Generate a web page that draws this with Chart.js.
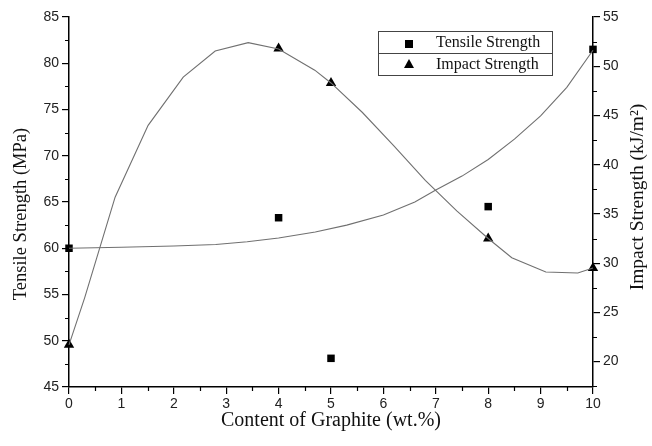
<!DOCTYPE html>
<html>
<head>
<meta charset="utf-8">
<script src="https://cdn.jsdelivr.net/npm/chart.js@4/dist/chart.umd.min.js"></script>
<style>
  html, body { margin: 0; padding: 0; background: #fff; }
  #wrap { width: 652px; height: 446px; }
</style>
</head>
<body>
<div id="wrap"><canvas id="c" width="652" height="446"></canvas></div>
<script>
// Measured samples
const graphiteContent = [0, 4, 5, 8, 10];
const tensileStrength = [60.0, 63.3, 48.1, 64.5, 81.5];
const impactStrength  = [21.7, 51.8, 48.3, 32.5, 29.5];

// Fitted trend curves
const tensileFitX = [0, 1, 2, 2.8, 3.4, 4.0, 4.7, 5.3, 6.0, 6.6, 7.0, 7.5, 8.0, 8.5, 9.0, 9.5, 10];
const tensileFitY = [60.0, 60.1, 60.25, 60.4, 60.7, 61.1, 61.75, 62.5, 63.6, 65.0, 66.3, 67.8, 69.6, 71.8, 74.3, 77.4, 81.4];
const impactFitX  = [0, 0.3, 0.88, 1.51, 2.18, 2.79, 3.42, 4.0, 4.69, 5.0, 5.6, 6.2, 6.8, 7.4, 8.0, 8.45, 9.1, 9.71, 10];
const impactFitY  = [21.7, 26.5, 36.7, 44.0, 48.9, 51.55, 52.4, 51.75, 49.6, 48.3, 45.3, 41.9, 38.4, 35.3, 32.5, 30.55, 29.1, 29.0, 29.5];

// Axis ticks
const xTicks = [0, 1, 2, 3, 4, 5, 6, 7, 8, 9, 10];
const tensileTicks = [45, 50, 55, 60, 65, 70, 75, 80, 85];
const impactTicks = [20, 25, 30, 35, 40, 45, 50, 55];

const xTitle = 'Content of Graphite (wt.%)';
const tensileTitle = 'Tensile Strength (MPa)';
const impactTitle = 'Impact Strength (kJ/m\u00B2)';
const legendLabels = ['Tensile Strength', 'Impact Strength'];

const pts = (xs, ys) => xs.map((x, i) => ({ x: x, y: ys[i] }));

const tickFont = { family: '"Liberation Sans", Arial, sans-serif', size: 14 };
const serif = '"Liberation Serif", "Times New Roman", serif';

// Short minor ticks halfway between labelled ticks
const minorTicks = {
  id: 'minorTicks',
  afterDraw(chart) {
    const ctx = chart.ctx;
    const { x, y, y1 } = chart.scales;
    ctx.save();
    ctx.strokeStyle = '#000';
    ctx.lineWidth = 1.2;
    ctx.beginPath();
    for (let i = 0; i < xTicks.length - 1; i++) {
      const px = Math.round(x.getPixelForValue((xTicks[i] + xTicks[i + 1]) / 2)) + 0.5;
      ctx.moveTo(px, x.top); ctx.lineTo(px, x.top + 4);
    }
    for (let i = 0; i < tensileTicks.length - 1; i++) {
      const py = Math.round(y.getPixelForValue((tensileTicks[i] + tensileTicks[i + 1]) / 2)) + 0.5;
      ctx.moveTo(y.right, py); ctx.lineTo(y.right - 4, py);
    }
    const imp = [impactTicks[0] - 5].concat(impactTicks);
    for (let i = 0; i < imp.length - 1; i++) {
      const v = (imp[i] + imp[i + 1]) / 2;
      if (v < y1.min) continue;
      const py = Math.round(y1.getPixelForValue(v)) + 0.5;
      ctx.moveTo(y1.left, py); ctx.lineTo(y1.left + 4, py);
    }
    ctx.stroke();
    ctx.restore();
  }
};

// Vertical axis titles, both reading bottom to top
const sideTitles = {
  id: 'sideTitles',
  afterDraw(chart) {
    const ctx = chart.ctx;
    ctx.save();
    ctx.fillStyle = '#111';
    ctx.font = '18.5px ' + serif;
    ctx.textAlign = 'center';
    ctx.textBaseline = 'middle';
    ctx.translate(21, 214);
    ctx.rotate(-Math.PI / 2);
    ctx.fillText(tensileTitle, 0, 0);
    ctx.restore();

    ctx.save();
    ctx.fillStyle = '#111';
    ctx.font = '19.5px ' + serif;
    ctx.textAlign = 'center';
    ctx.textBaseline = 'middle';
    ctx.translate(638, 197);
    ctx.rotate(-Math.PI / 2);
    ctx.fillText(impactTitle, 0, 0);
    ctx.restore();
  }
};

// Boxed two-row legend
const boxLegend = {
  id: 'boxLegend',
  afterDraw(chart) {
    const ctx = chart.ctx;
    const L = 378.5, R = 552.5, T = 31.5, M = 53.5, B = 75.5;
    ctx.save();
    ctx.strokeStyle = '#444';
    ctx.lineWidth = 1;
    ctx.strokeRect(L, T, R - L, B - T);
    ctx.beginPath(); ctx.moveTo(L, M); ctx.lineTo(R, M); ctx.stroke();
    ctx.fillStyle = '#000';
    // square marker
    ctx.fillRect(405, 40, 8, 8);
    // triangle marker
    ctx.beginPath();
    ctx.moveTo(409, 59); ctx.lineTo(414, 68); ctx.lineTo(404, 68); ctx.closePath(); ctx.fill();
    ctx.fillStyle = '#111';
    ctx.font = '16px ' + serif;
    ctx.textAlign = 'left';
    ctx.textBaseline = 'middle';
    ctx.fillText(legendLabels[0], 436, 43);
    ctx.fillText(legendLabels[1], 436, 65);
    ctx.restore();
  }
};

new Chart(document.getElementById('c'), {
  type: 'scatter',
  data: {
    datasets: [
      {
        label: 'Tensile fit', data: pts(tensileFitX, tensileFitY), yAxisID: 'y',
        showLine: true, borderColor: '#707070', borderWidth: 1.1, pointRadius: 0, tension: 0, clip: false
      },
      {
        label: 'Impact fit', data: pts(impactFitX, impactFitY), yAxisID: 'y1',
        showLine: true, borderColor: '#707070', borderWidth: 1.1, pointRadius: 0, tension: 0, clip: false
      },
      {
        label: legendLabels[0], data: pts(graphiteContent, tensileStrength), yAxisID: 'y',
        pointStyle: 'rect', pointRadius: 5.3, backgroundColor: '#000', borderColor: '#000', borderWidth: 0, clip: false
      },
      {
        label: legendLabels[1], data: pts(graphiteContent, impactStrength), yAxisID: 'y1',
        pointStyle: 'triangle', pointRadius: 6, backgroundColor: '#000', borderColor: '#000', borderWidth: 0, clip: false
      }
    ]
  },
  options: {
    responsive: false,
    animation: false,
    layout: { padding: { top: 17, left: 0, right: 0, bottom: 0 } },
    plugins: { legend: { display: false }, tooltip: { enabled: false } },
    scales: {
      x: {
        type: 'linear', min: 0, max: 10,
        afterBuildTicks: s => { s.ticks = xTicks.map(v => ({ value: v })); },
        afterFit: s => { s.height = 59; },
        border: { display: true, color: '#000', width: 1.5 },
        grid: { drawOnChartArea: false, tickLength: 7, color: '#000', lineWidth: 1.2 },
        ticks: { font: tickFont, color: '#222', padding: 2, maxRotation: 0 },
        title: { display: true, text: xTitle, font: { family: serif, size: 20 }, color: '#111', padding: { top: 0, bottom: 13 } }
      },
      y: {
        type: 'linear', position: 'left', min: 45, max: 85,
        afterBuildTicks: s => { s.ticks = tensileTicks.map(v => ({ value: v })); },
        afterFit: s => { s.width = 69; },
        border: { display: true, color: '#000', width: 1.5 },
        grid: { drawOnChartArea: false, tickLength: 7, color: '#000', lineWidth: 1.2 },
        ticks: { font: tickFont, color: '#222', padding: 3 }
      },
      y1: {
        type: 'linear', position: 'right', min: 17.42, max: 55,
        afterBuildTicks: s => { s.ticks = impactTicks.map(v => ({ value: v })); },
        afterFit: s => { s.width = 59; },
        border: { display: true, color: '#000', width: 1.5 },
        grid: { drawOnChartArea: false, tickLength: 7, color: '#000', lineWidth: 1.2 },
        ticks: { font: tickFont, color: '#222', padding: 3 }
      }
    }
  },
  plugins: [minorTicks, sideTitles, boxLegend]
});
</script>
</body>
</html>
